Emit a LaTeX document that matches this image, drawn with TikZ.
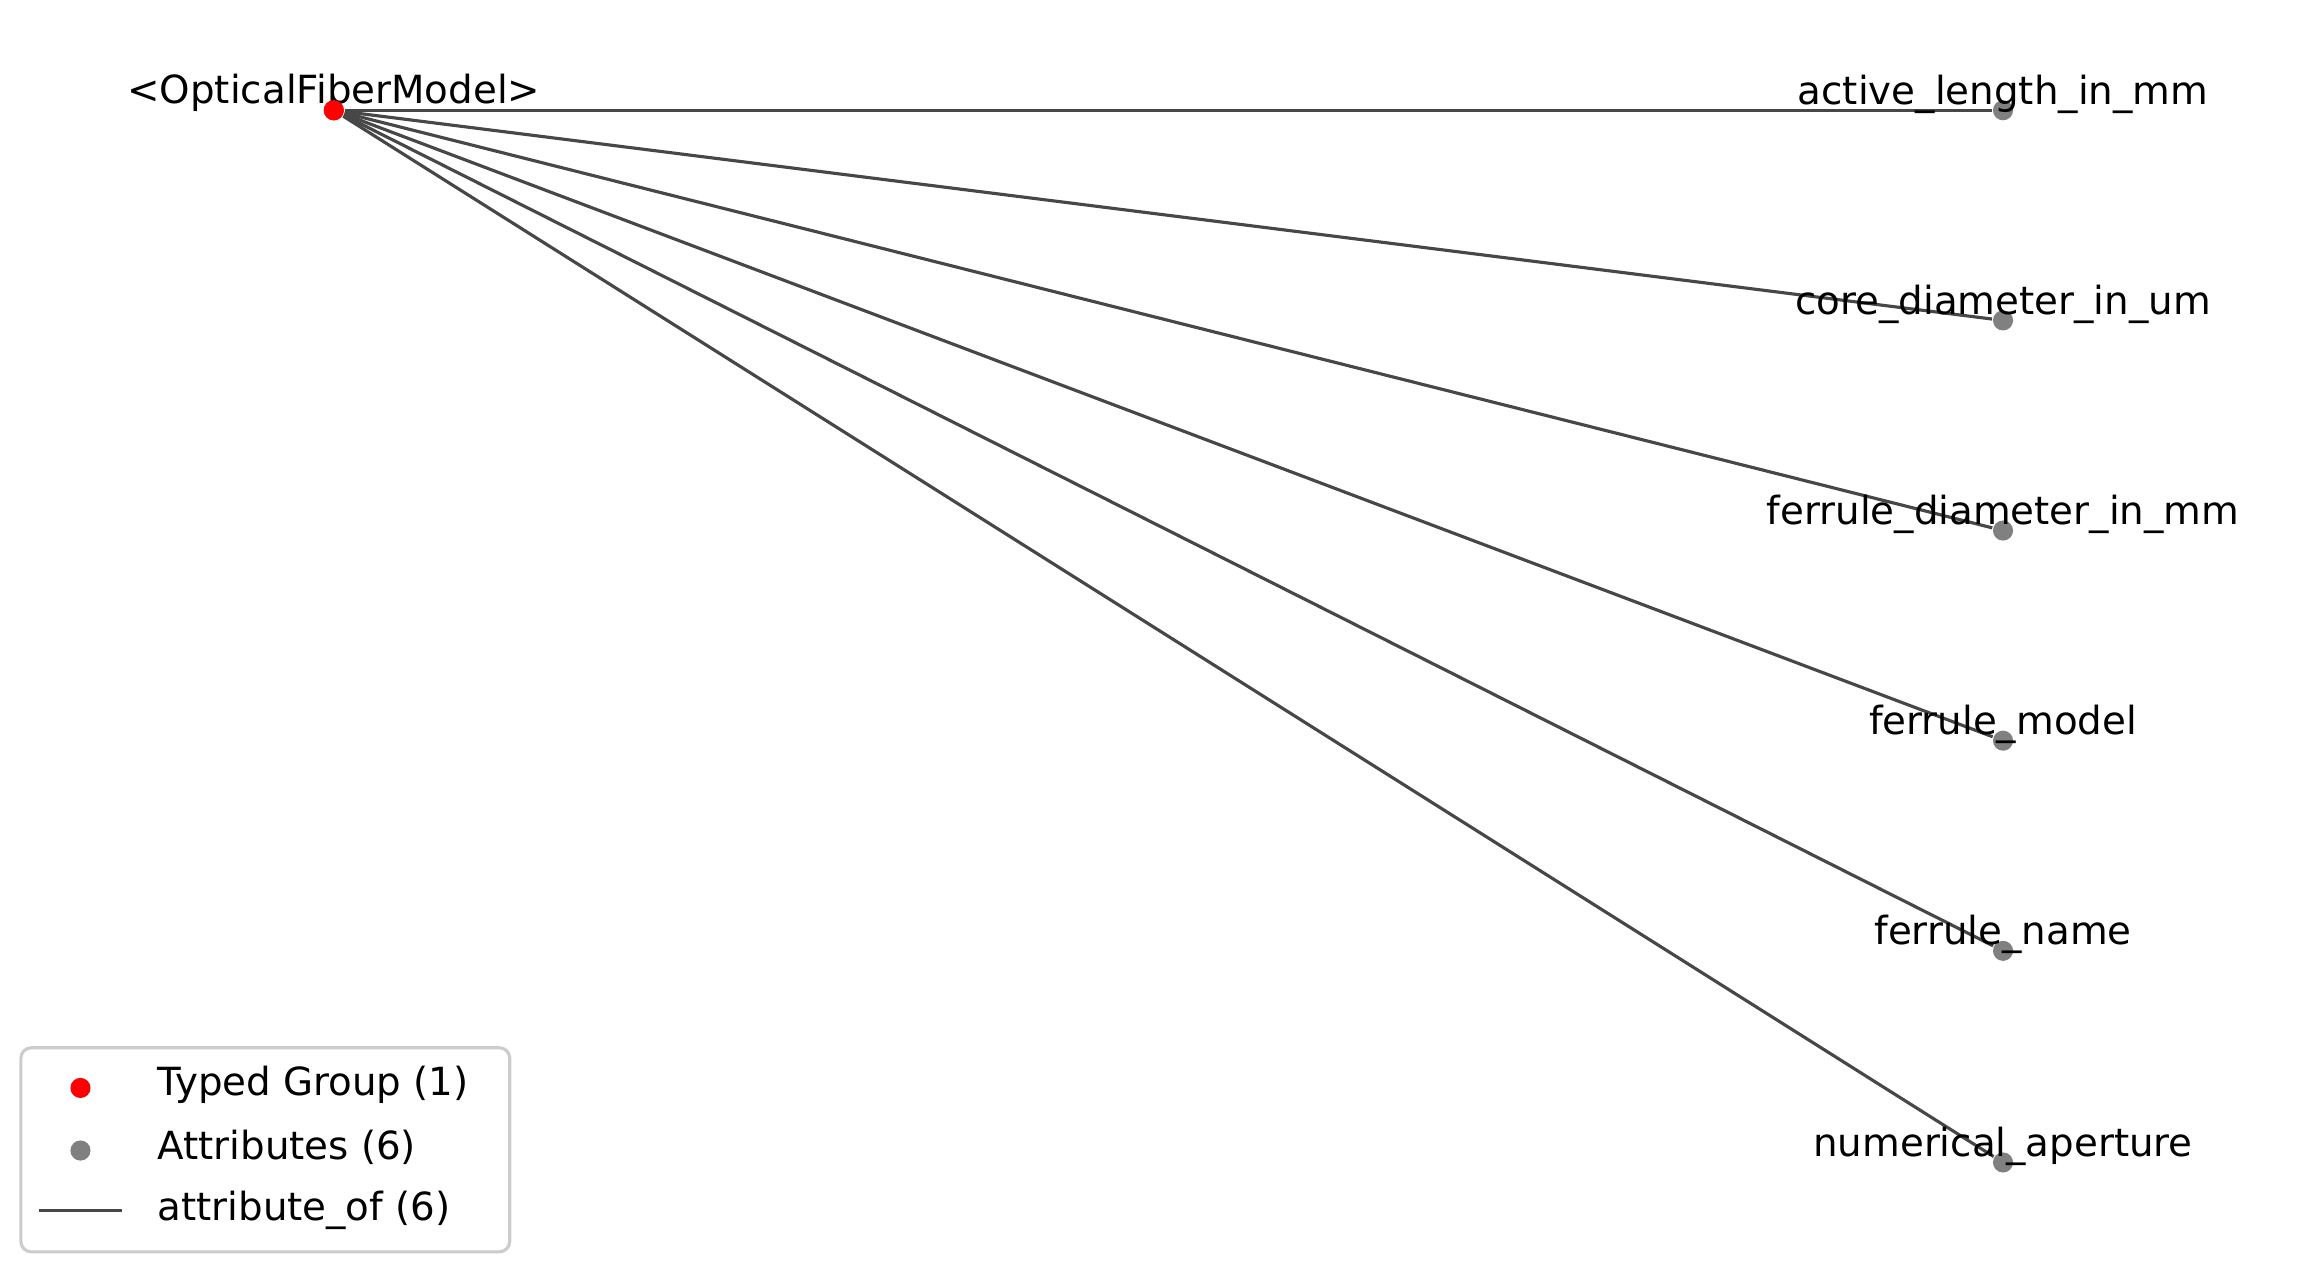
\documentclass[tikz,border=0pt]{standalone}
\usepackage{fontspec}
\setmainfont{DejaVu Sans}
\begin{document}
\begin{tikzpicture}[x=0.1mm,y=-0.1mm,
  lbl/.style={font=\fontsize{7.4}{8}\selectfont,inner sep=0pt},
  edge/.style={draw=black!72,line width=0.6pt},
  gdot/.style={circle,fill=gray,inner sep=0pt,minimum size=1.35mm},
  rdot/.style={circle,fill=red,inner sep=0pt,minimum size=1.35mm}]
\useasboundingbox (0,0) rectangle (1550,845.5);
\node[rdot] (r) at (224,74) {};
\node[lbl] (rl) at (224,62) {<OpticalFiberModel>};
\foreach \n/\y/\t in {a/74/active\_length\_in\_mm,b/215/core\_diameter\_in\_um,c/356/ferrule\_diameter\_in\_mm,d/497/ferrule\_model,e/638/ferrule\_name,f/780/numerical\_aperture}{
  \node[gdot] (\n) at (1344,\y) {};
  \draw[edge] (r) -- (\n);
  \node[lbl] (\n l) at (1344,\y-11) {\t};
}
\node[rdot] at (r) {};
\draw[black!20,line width=0.6pt,rounded corners=2pt,fill=white] (14,703) rectangle (342,840);
\node[rdot] (lr) at (54,730) {};
\node[lbl,anchor=west] (lrt) at (105,728) {Typed Group (1)};
\node[gdot] (lg) at (54,772) {};
\node[lbl,anchor=west] (lgt) at (105,770) {Attributes (6)};
\coordinate (l1) at (26,812); \coordinate (l2) at (82,812);
\draw[edge] (l1) -- (l2);
\node[lbl,anchor=west] (let) at (105,812) {attribute\_of (6)};
\end{tikzpicture}
\end{document}
